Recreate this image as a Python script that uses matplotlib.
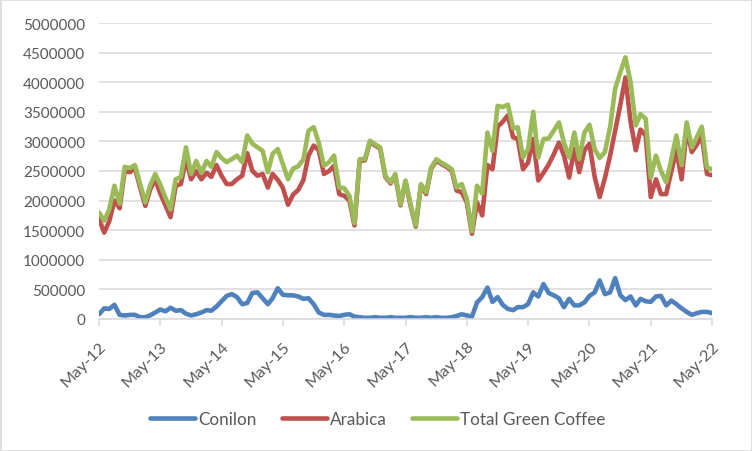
import numpy as np
import pandas as pd
import matplotlib
matplotlib.use("Agg")
import matplotlib.pyplot as plt
import matplotlib.dates as mdates
from matplotlib.patches import Rectangle

# monthly exports, thousand bags, May-12 .. May-22
months = pd.date_range("2012-05-01", "2022-05-01", freq="MS")

conilon = [
    80, 180, 170, 240, 70, 60, 70, 70, 30, 30, 60, 110,
    160, 130, 190, 140, 150, 90, 60, 80, 110, 150, 140, 210,
    300, 390, 420, 370, 250, 270, 440, 450, 350, 250, 350, 520,
    410, 400, 400, 380, 340, 350, 250, 110, 70, 70, 60, 50,
    70, 80, 40, 30, 20, 20, 30, 20, 20, 30, 20, 20,
    20, 30, 20, 20, 30, 20, 30, 20, 20, 30, 50, 80,
    60, 40, 280, 370, 530, 290, 370, 240, 170, 150, 200, 200,
    250, 450, 380, 590, 440, 400, 350, 200, 340, 230, 230, 280,
    390, 450, 650, 420, 450, 690, 400, 320, 380, 230, 340, 300,
    290, 380, 390, 230, 310, 250, 180, 120, 70, 100, 120, 120,
    100,
]

arabica = [
    1690, 1460, 1650, 2000, 1870, 2500, 2480, 2550, 2220, 1910, 2180, 2360,
    2120, 1920, 1720, 2250, 2280, 2700, 2360, 2500, 2360, 2470, 2400, 2600,
    2420, 2280, 2280, 2360, 2420, 2800, 2500, 2420, 2450, 2220, 2450, 2350,
    2220, 1930, 2100, 2180, 2350, 2760, 2930, 2850, 2450, 2500, 2590, 2110,
    2080, 2000, 1580, 2670, 2680, 2990, 2930, 2880, 2400, 2290, 2430, 1920,
    2320, 1900, 1560, 2260, 2110, 2540, 2670, 2620, 2570, 2500, 2170, 2140,
    1970, 1440, 1970, 1750, 2600, 2530, 3250, 3330, 3440, 3070, 3040, 2530,
    2640, 3040, 2340, 2470, 2610, 2780, 2980, 2760, 2390, 2880, 2480, 2850,
    2960, 2400, 2060, 2380, 2760, 3180, 3620, 4080, 3330, 2850, 3200, 3100,
    2060, 2360, 2110, 2110, 2500, 2850, 2360, 3200, 2820, 2950, 3100, 2450,
    2430,
]

total = [
    1800, 1660, 1850, 2250, 1950, 2570, 2550, 2600, 2280, 1970, 2250, 2450,
    2270, 2050, 1850, 2360, 2400, 2900, 2450, 2670, 2470, 2670, 2570, 2820,
    2720, 2650, 2700, 2760, 2650, 3100, 2960, 2900, 2840, 2480, 2790, 2870,
    2620, 2360, 2540, 2580, 2700, 3180, 3240, 2980, 2590, 2650, 2760, 2220,
    2210, 2080, 1620, 2700, 2700, 3010, 2950, 2900, 2420, 2310, 2450, 1940,
    2340, 1930, 1580, 2280, 2140, 2560, 2700, 2640, 2590, 2530, 2220, 2280,
    2030, 1480, 2250, 2120, 3150, 2840, 3600, 3580, 3620, 3220, 3240, 2730,
    2870, 3500, 2730, 3040, 3050, 3180, 3320, 2980, 2730, 3150, 2700, 3150,
    3280, 2870, 2720, 2820, 3240, 3890, 4170, 4420, 4000, 3270, 3460, 3380,
    2390, 2760, 2500, 2310, 2700, 3100, 2600, 3320, 2900, 3080, 3250, 2560,
    2530,
]

series = [("Conilon", conilon, "#4F81BD"),
          ("Arabica", arabica, "#C0504D"),
          ("Total Green Coffee", total, "#9BBB59")]

plt.rcParams["font.family"] = ["Lato", "DejaVu Sans"]
txt = "#595959"
grid = "#d9d9d9"

fig = plt.figure(figsize=(7.52, 4.52), dpi=100)
ax = fig.add_axes([99 / 752, 1 - 320 / 452, 613 / 752, 296 / 452])

for name, vals, col in series:
    ax.plot(months, np.array(vals) * 1000, color=col, lw=3.3, label=name,
            solid_joinstyle="round", solid_capstyle="round")

ax.set_xlim(months[0], months[-1])
ax.set_ylim(0, 5000000)
ax.set_yticks(np.arange(0, 5000001, 500000))
ax.yaxis.set_major_formatter(matplotlib.ticker.FuncFormatter(lambda v, p: f"{int(v)}"))
ax.grid(axis="y", color=grid, lw=1.1)
ax.set_axisbelow(True)

ax.set_xticks(months[::12])
ax.xaxis.set_major_formatter(mdates.DateFormatter("%b-%y"))
plt.setp(ax.get_xticklabels(), rotation=45, ha="right", rotation_mode="anchor")

for s in ["top", "right", "left"]:
    ax.spines[s].set_visible(False)
ax.spines["bottom"].set_color(grid)
ax.spines["bottom"].set_linewidth(1.1)
ax.tick_params(axis="x", colors=grid, length=5, width=1.1, pad=9, labelsize=11.8,
               labelcolor=txt)
ax.tick_params(axis="y", length=0, pad=10, labelsize=11, labelcolor=txt)

leg = fig.legend(loc="center", bbox_to_anchor=(378 / 752, 1 - 420 / 452), ncol=3,
                 frameon=False, fontsize=12.3, handlelength=2.6, columnspacing=1.5,
                 handletextpad=0.2)
for t in leg.get_texts():
    t.set_color(txt)

fig.patches.append(Rectangle((0.5 / 752, 0.5 / 452), 751 / 752, 451 / 452,
                             transform=fig.transFigure, fill=False,
                             edgecolor=grid, lw=1.2))

fig.savefig("out.png", dpi=100)
